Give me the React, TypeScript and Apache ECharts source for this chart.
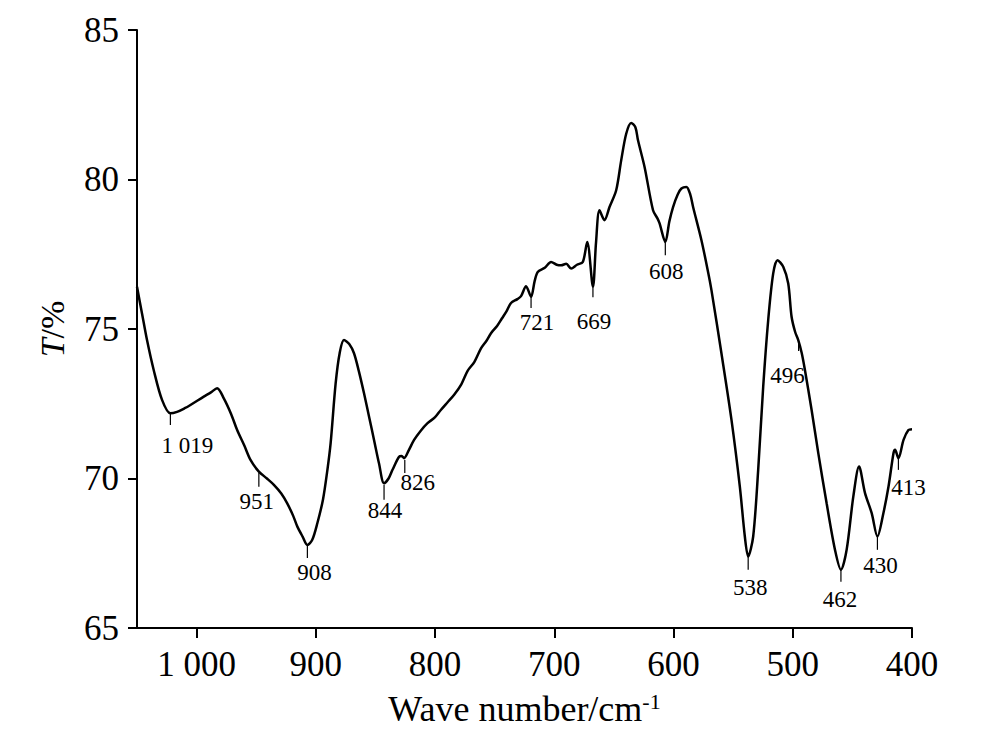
import React, { useEffect, useRef } from "react";
import * as echarts from "echarts";

// Spectrum: wave number (cm-1) and transmittance (%)
const waveNumbers: number[] = [
  1050, 1045.8, 1041.6, 1036, 1029, 1022, 1016.4, 1010, 1005.2, 994, 988, 982.8, 977.2, 971, 966, 960,
  954.8, 947.8, 941, 935.2, 929, 924, 919, 915.5, 911, 907.1, 903, 898.7, 894, 890.3, 887.6, 883.4,
  880, 876.4, 872, 868, 864, 859.6, 855, 851.2, 847, 842.8, 839, 835.7, 830.2, 828, 826, 822,
  817.6, 812, 806.3, 800, 795, 789.5, 784, 778, 772.7, 767, 761.5, 757, 753.1, 748, 744, 740,
  736.3, 731, 727.9, 723.7, 719.5, 716.5, 713.9, 708, 702.7, 698, 694.3, 690, 685.9, 681, 676.1, 672.4,
  667.6, 665, 662.1, 657.9, 653.7, 648.1, 643.9, 639.7, 635.5, 632, 629.8, 624.3, 617.2, 613.5, 611.7, 606.9,
  603.5, 600.4, 596.5, 593.4, 589.2, 586, 583.6, 576.6, 571, 568.2, 559.8, 551.4, 544.4, 540.2, 537.4, 533.2,
  529, 524.8, 520.6, 516.4, 512.8, 508, 503.8, 501, 498, 495.4, 492.5, 489.8, 484.2, 478.6, 471.6, 464.6,
  459.6, 454.8, 449.2, 444.4, 439.4, 433.8, 429, 424, 419.7, 415.5, 414.2, 411.4, 407.1, 403, 400,
];
const transmittance: number[] = [
  76.41, 75.52, 74.63, 73.63, 72.63, 72.18, 72.23, 72.35, 72.46, 72.74, 72.88, 73.02, 72.68, 72.15, 71.62, 71.1,
  70.62, 70.23, 70.0, 69.79, 69.5, 69.17, 68.75, 68.39, 68.05, 67.78, 67.95, 68.51, 69.3, 70.29, 71.18, 73.18,
  74.2, 74.63, 74.5, 74.19, 73.6, 72.85, 72.0, 71.29, 70.5, 69.84, 70.0, 70.29, 70.73, 70.75, 70.68, 70.95,
  71.29, 71.6, 71.85, 72.05, 72.3, 72.55, 72.8, 73.15, 73.6, 73.9, 74.35, 74.6, 74.86, 75.1, 75.35, 75.6,
  75.87, 76.0, 76.1, 76.43, 76.08, 76.6, 76.91, 77.05, 77.24, 77.15, 77.13, 77.18, 77.02, 77.15, 77.24, 77.91,
  76.41, 77.9, 78.97, 78.64, 79.08, 79.64, 80.64, 81.53, 81.89, 81.75, 81.31, 80.42, 78.97, 78.7, 78.53, 77.91,
  78.6, 79.08, 79.5, 79.7, 79.75, 79.5, 79.08, 77.97, 76.9, 76.3, 74.18, 71.96, 69.73, 68.06, 67.39, 68.06,
  70.29, 73.07, 75.3, 76.86, 77.3, 77.08, 76.52, 75.41, 74.9, 74.63, 74.2, 73.63, 72.29, 70.85, 69.17, 67.62,
  66.95, 67.62, 69.4, 70.4, 69.51, 68.84, 68.06, 68.84, 69.73, 70.85, 70.96, 70.68, 71.29, 71.62, 71.65,
];

// Peak annotations: label, marker wave number and transmittance at the marker top
const peakLabels: string[] = ["1 019", "951", "908", "844", "826", "721", "669", "608", "538", "496", "462", "430", "413"];
const peakWave: number[] = [1022, 947.8, 907.1, 842.8, 825.4, 719.5, 667.6, 606.9, 537.4, 495.1, 459.6, 429, 411.4];
const peakT: number[] = [72.19, 70.19, 67.78, 69.79, 70.62, 76.07, 76.4, 77.9, 67.38, 74.53, 66.95, 68.05, 70.69];

// Layout of annotation marks (pixels): tick length, label dx, label dy (from tick bottom)
const peakLayout: number[][] = [
  [12, 17, 20], [14, -2, 15], [13, 7, 15], [15, 1, 11], [13, 13, 10], [11, 6, 14], [10, 1, 24],
  [13, 1, 16], [13, 2, 18], [8, -11, 24], [12, -1, 18], [13, 3, 16], [12, 10, 18],
];

const xTicks: number[] = [400, 500, 600, 700, 800, 900, 1000];

const SERIF = '"Liberation Serif", "DejaVu Serif", serif';

export default function App() {
  const ref = useRef<HTMLDivElement>(null);

  useEffect(() => {
    if (!ref.current) return;
    const chart = echarts.init(ref.current, undefined, { renderer: "svg" });
    const lineData = waveNumbers.map((w, i) => [w, transmittance[i]]);
    const peakData = peakWave.map((w, i) => [w, peakT[i], i]);

    chart.setOption({
      animation: false,
      backgroundColor: "#fff",
      grid: { left: 137, right: 79, top: 30, bottom: 117, containLabel: false },
      xAxis: {
        type: "value",
        min: 400,
        max: 1050,
        interval: 100,
        inverse: true,
        name: "Wave number/cm{sup|-1}",
        nameLocation: "middle",
        nameGap: 62,
        nameTextStyle: {
          fontFamily: SERIF,
          fontSize: 36,
          color: "#000",
          rich: {
            sup: { fontFamily: SERIF, fontSize: 22, color: "#000", verticalAlign: "top", padding: [0, 0, 16, 0] },
          },
        },
        axisLine: { show: true, lineStyle: { color: "#000", width: 2 } },
        axisTick: { show: true, inside: false, length: 10, lineStyle: { color: "#000", width: 2 }, customValues: xTicks },
        axisLabel: {
          customValues: xTicks,
          fontFamily: SERIF,
          fontSize: 35,
          color: "#000",
          margin: 19,
          formatter: (v: number) => String(v).replace(/\B(?=(\d{3})+(?!\d))/g, " "),
        },
        splitLine: { show: false },
      },
      yAxis: {
        type: "value",
        min: 65,
        max: 85,
        interval: 5,
        name: "{i|T}/%",
        nameLocation: "middle",
        nameGap: 68,
        nameTextStyle: {
          fontFamily: SERIF,
          fontSize: 34,
          color: "#000",
          rich: { i: { fontFamily: SERIF, fontSize: 34, fontStyle: "italic", color: "#000" } },
        },
        axisLine: { show: true, lineStyle: { color: "#000", width: 2 } },
        axisTick: { show: true, inside: false, length: 9, lineStyle: { color: "#000", width: 2 } },
        axisLabel: { fontFamily: SERIF, fontSize: 35, color: "#000", margin: 18 },
        splitLine: { show: false },
      },
      series: [
        {
          type: "line",
          data: lineData,
          symbol: "none",
          smooth: 0.3,
          lineStyle: { color: "#000", width: 2.5 },
          z: 2,
        },
        {
          type: "custom",
          coordinateSystem: "cartesian2d",
          data: peakData,
          encode: { x: 0, y: 1 },
          clip: false,
          z: 3,
          renderItem: (_params: any, api: any) => {
            const idx = api.value(2);
            const p = api.coord([api.value(0), api.value(1)]);
            const [len, dx, dy] = peakLayout[idx];
            return {
              type: "group",
              children: [
                {
                  type: "line",
                  shape: { x1: p[0], y1: p[1], x2: p[0], y2: p[1] + len },
                  style: { stroke: "#000", lineWidth: 1.2 },
                },
                {
                  type: "text",
                  style: {
                    text: peakLabels[idx],
                    x: p[0] + dx,
                    y: p[1] + len + dy,
                    align: "center",
                    verticalAlign: "middle",
                    font: `23px ${SERIF}`,
                    fill: "#000",
                  },
                },
              ],
            };
          },
        },
      ],
    });

    return () => chart.dispose();
  }, []);

  return (
    <div
      ref={ref}
      style={{ position: "fixed", left: 0, top: 0, width: "991px", height: "745px", background: "#fff" }}
    />
  );
}
